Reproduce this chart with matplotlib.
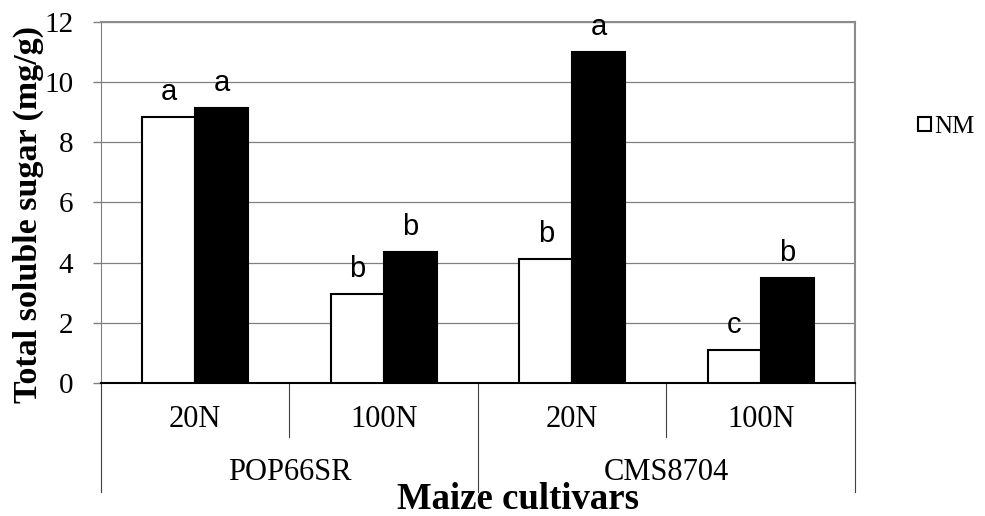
import numpy as np
import matplotlib.pyplot as plt
from matplotlib.transforms import blended_transform_factory

plt.rcParams['font.family'] = ['Liberation Serif', 'DejaVu Serif']

# Data
cultivars = ['POP66SR', 'CMS8704']
nitrogen = ['20N', '100N', '20N', '100N']
nm = [8.85, 2.96, 4.12, 1.10]
m = [9.15, 4.36, 11.0, 3.49]
nm_letters = ['a', 'b', 'b', 'c']
m_letters = ['a', 'b', 'a', 'b']

fig = plt.figure(figsize=(9.85, 5.16), dpi=100)
ax = fig.add_axes([0.1025, 0.2578, 0.7655, 0.6996])

x = np.arange(len(nitrogen))
w = 0.28
ax.bar(x - w / 2, nm, w, color='white', edgecolor='black', linewidth=1.5,
       label='NM', zorder=3)
ax.bar(x + w / 2, m, w, color='black', edgecolor='black', linewidth=1.5,
       label='_M', zorder=3)

# significance letters
for i in range(len(x)):
    ax.annotate(nm_letters[i], (x[i] - w / 2, nm[i]), xytext=(0, 12),
                textcoords='offset points', ha='center', va='baseline',
                fontsize=21, family='Liberation Sans')
    ax.annotate(m_letters[i], (x[i] + w / 2, m[i]), xytext=(0, 12),
                textcoords='offset points', ha='center', va='baseline',
                fontsize=21, family='Liberation Sans')

ax.set_xlim(-0.5, len(x) - 0.5)
ax.set_ylim(0, 12)
ax.set_yticks(range(0, 13, 2))
ax.yaxis.grid(True, color='#808080', linewidth=0.9)
ax.set_axisbelow(True)
ax.tick_params(axis='y', labelsize=21, length=6, width=1, color='#808080',
               pad=14)
ax.set_xticks([])

for side in ['top', 'right']:
    ax.spines[side].set_color('#8c8c8c')
    ax.spines[side].set_linewidth(1.5)
ax.spines['left'].set_color('#808080')
ax.spines['bottom'].set_color('black')
ax.spines['bottom'].set_linewidth(1.5)

# two-level category axis
trans = blended_transform_factory(ax.transData, ax.transAxes)
bounds = np.arange(len(x) + 1) - 0.5
for k, b in enumerate(bounds):
    low = -0.302 if k % 2 == 0 else -0.1496
    ax.plot([b, b], [0, low], transform=trans, clip_on=False,
            color='#404040', linewidth=0.8)
for i, lab in enumerate(nitrogen):
    ax.text(x[i], -0.1025, lab, transform=trans, ha='center', va='center',
            fontsize=22)
for j, lab in enumerate(cultivars):
    ax.text(0.5 + 2 * j, -0.249, lab, transform=trans, ha='center',
            va='center', fontsize=22)

fig.text(0.526, 0.0135, 'Maize cultivars', ha='center', va='baseline',
         fontsize=26.5, fontweight='bold')
fig.text(0.029, 0.585, 'Total soluble sugar (mg/g)', rotation=90,
         ha='center', va='center', fontsize=24.5, fontweight='bold')

fig.legend(loc='center left', bbox_to_anchor=(918 / 985, 1 - 127 / 516),
           frameon=False, fontsize=18, handlelength=0.5, handleheight=0.5,
           handletextpad=0.15, borderpad=0, borderaxespad=0)

fig.savefig('out.png', dpi=100)
